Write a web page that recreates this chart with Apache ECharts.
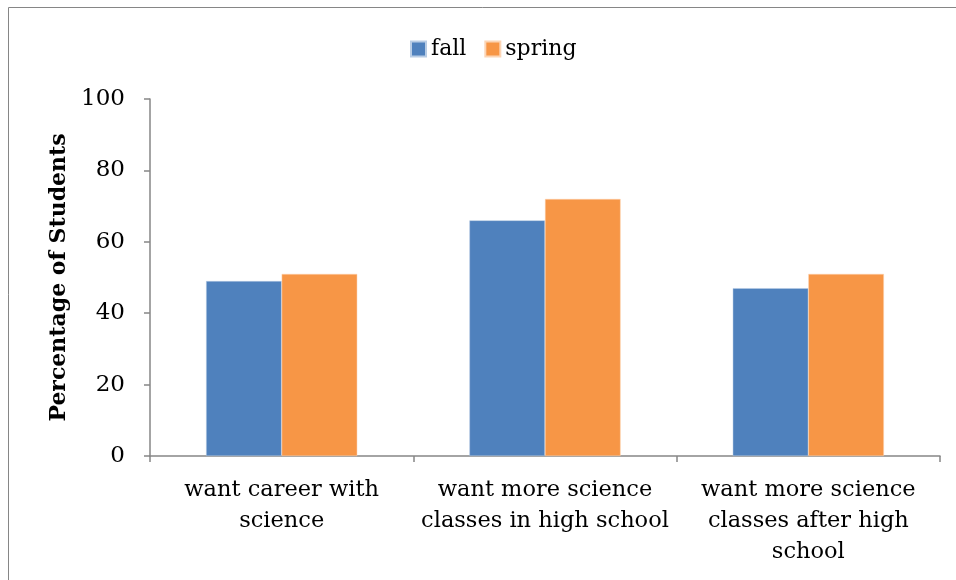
<!DOCTYPE html>
<html><head><meta charset="utf-8">
<script src="https://cdn.jsdelivr.net/npm/echarts@6/dist/echarts.min.js"></script>
<style>html,body{margin:0;padding:0;background:#fff}#c{width:956px;height:580px}</style>
</head><body><div id="c"></div>
<script>
const categories = ['want career with\nscience', 'want more science\nclasses in high school', 'want more science\nclasses after high\nschool'];
const fallValues = [49, 66, 47];
const springValues = [51, 72, 51];
const seriesNames = ['fall', 'spring'];
const yAxisTitle = 'Percentage of Students';

const font = 'DejaVu Serif';
const chart = echarts.init(document.getElementById('c'));
chart.setOption({
  backgroundColor: '#fff',
  animation: false,
  graphic: [{
    type: 'rect', shape: {x: 8.5, y: 7.5, width: 1000, height: 1000},
    style: {fill: 'none', stroke: '#868686', lineWidth: 1}, silent: true
  }],
  legend: {
    top: 33, left: 405, itemWidth: 15, itemHeight: 15, itemGap: 18,
    icon: 'rect',
    textStyle: {fontFamily: font, fontSize: 22, color: '#000'},
    data: seriesNames
  },
  grid: {left: 150, right: 16, top: 99, bottom: 124, containLabel: false},
  xAxis: {
    type: 'category', data: categories,
    axisLine: {lineStyle: {color: '#868686', width: 1.5}},
    axisTick: {show: true, length: 6, lineStyle: {color: '#868686', width: 1.5}},
    axisLabel: {fontFamily: font, fontSize: 22.5, color: '#000', lineHeight: 31, margin: 19, interval: 0}
  },
  yAxis: {
    type: 'value', min: 0, max: 100, interval: 20,
    name: yAxisTitle, nameLocation: 'middle', nameGap: 79, nameRotate: 90,
    nameTextStyle: {fontFamily: font, fontSize: 22, fontWeight: 'bold', color: '#000'},
    axisLine: {show: true, lineStyle: {color: '#868686', width: 1.5}},
    axisTick: {show: true, length: 6, lineStyle: {color: '#868686', width: 1.5}},
    axisLabel: {fontFamily: font, fontSize: 23, color: '#000', margin: 25},
    splitLine: {show: false}
  },
  series: [
    {name: seriesNames[0], type: 'bar', data: fallValues, barGap: '0%', barCategoryGap: '42.6%',
     itemStyle: {color: '#4f81bd', borderColor: '#b9cde5', borderWidth: 0.5}},
    {name: seriesNames[1], type: 'bar', data: springValues, barGap: '0%', barCategoryGap: '42.6%',
     itemStyle: {color: '#f79646', borderColor: '#fcd5b5', borderWidth: 0.5}}
  ]
});
</script></body></html>
